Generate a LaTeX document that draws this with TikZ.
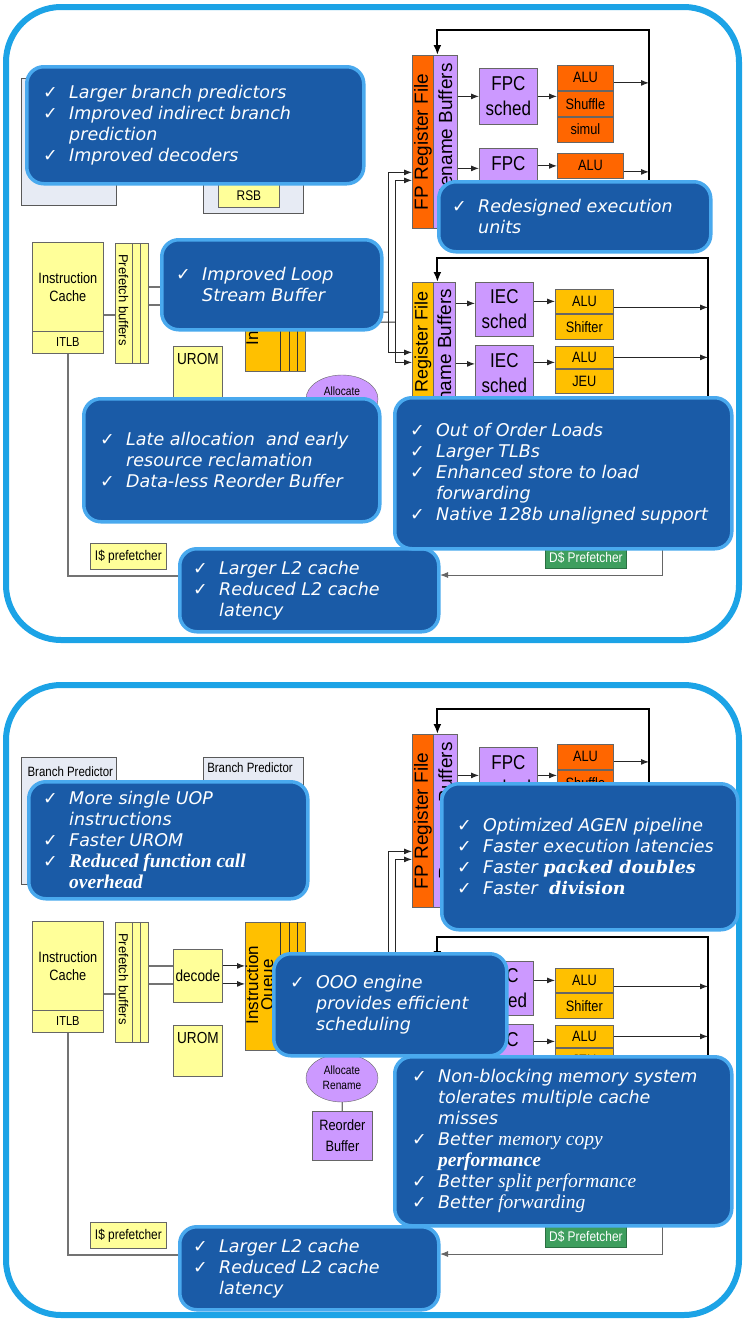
\documentclass[tikz,border=0pt]{standalone}
\usepackage{fontspec}
\usepackage{tikz}
\usetikzlibrary{positioning,calc,arrows.meta,shapes.geometric}

\newfontfamily\dgfont{Liberation Sans}[FakeStretch=0.85]
\newfontfamily\rtfont{Liberation Sans}
\newfontfamily\callfont{DejaVu Sans}
\newfontfamily\tmsfont{Liberation Serif}
\newfontfamily\dvsfont{DejaVu Serif}

\definecolor{panelblue}{HTML}{1CA3E6}
\definecolor{callfill}{HTML}{1A5BA7}
\definecolor{callrim}{HTML}{49A9EE}
\definecolor{lightyellow}{HTML}{FFFF99}
\definecolor{gold}{HTML}{FFC000}
\definecolor{fporange}{HTML}{FF6600}
\definecolor{lilac}{HTML}{CC99FF}
\definecolor{bpgrey}{HTML}{E7EBF4}
\definecolor{dgreen}{HTML}{3E9E5E}

\newcommand{\ck}{\makebox[26pt][l]{\upshape ✓}}
\newcommand{\nock}{\hspace*{26pt}}
\newcommand{\tmsit}[1]{{\tmsfont\itshape\fontsize{19.5}{21}\selectfont #1}}
\newcommand{\tmsbf}[1]{{\tmsfont\bfseries\itshape\fontsize{19.5}{21}\selectfont #1}}
\newcommand{\dvsbf}[1]{{\dvsfont\bfseries\itshape #1}}

% one copy of the core block diagram, #1 = name prefix
\newcommand{\cpucore}[1]{%
  % front end
  \node[bpbox, minimum width=95pt, minimum height=127pt] (#1-bpa) at (21,78) {};
  \node[bpbox, minimum width=100pt, minimum height=135pt] (#1-bpb) at (203,78) {};
  \node[ybox, minimum width=71pt, minimum height=89pt] (#1-ic) at (32,242) {Instruction\\Cache};
  \node[ybox, minimum width=71pt, minimum height=22pt, font=\dgfont\fontsize{13}{15}\selectfont] (#1-itlb) at (32,331) {ITLB};
  \node[ybox, minimum width=33pt, minimum height=120pt] (#1-pf) at (115,243) {};
  \draw[draw=black!60] (132,243) -- (132,363) (140,243) -- (140,363);
  \node[rotlab, rotate=-90, font=\rtfont\fontsize{13}{15}\selectfont] (#1-pftxt) at (123.5,300) {Prefetch buffers};
  \node[ybox, minimum width=49pt, minimum height=53pt, font=\dgfont\fontsize{16}{18}\selectfont] (#1-dec) at (173,270) {decode};
  \node[ybox, minimum width=49pt, minimum height=51pt] (#1-urom) at (173,346) {};
  \node[font=\dgfont\fontsize{16}{18}\selectfont] (#1-uromtxt) at ($(#1-urom.north)+(0,13)$) {UROM};
  \node[qbox, minimum width=60pt, minimum height=128pt] (#1-iq) at (245,243) {};
  \draw[draw=black!80] (280,243) -- (280,371) (289,243) -- (289,371) (297,243) -- (297,371);
  \node[rotlab, rotate=90, align=center, font=\rtfont\fontsize{17}{15}\selectfont] (#1-iqtxt) at (261,306) {Instruction\\Queue};
  \draw[wire] ($(#1-ic.east)+(0,28)$) -- ($(#1-pf.west |- #1-ic.east)+(0,28)$);
  \draw[wire] ($(#1-dec.west -| #1-pf.east)+(0,-10)$) -- ($(#1-dec.west)+(0,-10)$);
  \draw[wire] ($(#1-dec.west -| #1-pf.east)+(0,8)$) -- ($(#1-dec.west)+(0,8)$);
  \draw[arr] ($(#1-dec.east)+(0,-10)$) -- ($(#1-dec.east -| #1-iq.west)+(0,-10)$);
  \draw[arr] ($(#1-dec.east)+(0,8)$) -- ($(#1-dec.east -| #1-iq.west)+(0,8)$);
  % FP cluster
  \node[obox, minimum width=21pt, minimum height=173pt] (#1-fprf) at (412,55) {};
  \node[rotlab, rotate=90] (#1-fprftxt) at (#1-fprf.center) {FP Register File};
  \node[pbox, minimum width=24pt, minimum height=173pt] (#1-fprn) at (433,55) {};
  \node[rotlab, rotate=90] (#1-fprntxt) at ($(#1-fprn.center)+(0,-10)$) {Rename Buffers};
  \node[pbox, sched, minimum width=58pt, minimum height=56pt] (#1-fpca) at (479,68) {FPC\\sched};
  \node[pbox, sched, minimum width=58pt, minimum height=56pt] (#1-fpcb) at (479,148) {FPC\\sched};
  \node[obox, minimum width=56pt, minimum height=25pt] (#1-fpalu) at (557,65) {ALU};
  \node[obox, minimum width=56pt, minimum height=25pt, below=0pt of #1-fpalu] (#1-fpshuf) {Shuffle};
  \node[obox, minimum width=56pt, minimum height=25pt, below=0pt of #1-fpshuf] (#1-fpsimul) {simul};
  \node[obox, minimum width=66pt, minimum height=25pt] (#1-fpalub) at (557,153) {ALU};
  \coordinate (#1-fpret) at (649,195);
  \draw[fbk] (#1-fpret) |- ($(#1-fprn.north)+(-8,-25)$) -- ($(#1-fprn.north)+(-8,0)$);
  \draw[arr] (#1-fpca.west -| #1-fprn.east) -- (#1-fpca.west);
  \draw[arr] (#1-fpca.east) -- (#1-fpca.east -| #1-fpalu.west);
  \draw[arr] ($(#1-fpalu.east)+(0,5)$) -- ($(#1-fpalu.east -| #1-fpret)+(0,5)$);
  \draw[arr] ($(#1-fpcb.west -| #1-fprn.east)+(0,-8)$) -- ($(#1-fpcb.west)+(0,-8)$);
  \draw[arr] (#1-fpalub.west -| #1-fpcb.east) -- (#1-fpalub.west);
  \draw[arr] ($(#1-fpalub.east)+(0,6)$) -- ($(#1-fpalub.east -| #1-fpret)+(0,6)$);
  % integer cluster
  \node[qbox, minimum width=21pt, minimum height=180pt] (#1-irf) at (412,282) {};
  \node[rotlab, rotate=90, font=\rtfont\fontsize{18}{20}\selectfont] (#1-irftxt) at (#1-irf.center) {Integer Register File};
  \node[pbox, minimum width=22pt, minimum height=180pt] (#1-irn) at (433,282) {};
  \node[rotlab, rotate=90] (#1-irntxt) at ($(#1-irn.center)+(0,-15)$) {Rename Buffers};
  \node[pbox, sched, minimum width=58pt, minimum height=54pt] (#1-ieca) at (475,282) {IEC\\sched};
  \node[pbox, sched, minimum width=58pt, minimum height=55pt] (#1-iecb) at (475,345) {IEC\\sched};
  \node[qbox, minimum width=58pt, minimum height=24pt] (#1-ialu) at (555,289) {ALU};
  \node[qbox, minimum width=58pt, minimum height=25pt, below=0pt of #1-ialu] (#1-ishift) {Shifter};
  \node[qbox, minimum width=58pt, minimum height=22pt] (#1-ialub) at (555,346) {ALU};
  \node[qbox, minimum width=58pt, minimum height=24pt, below=0pt of #1-ialub] (#1-ijeu) {JEU};
  \coordinate (#1-iret) at (708,400);
  \draw[fbk] (#1-iret) |- ($(#1-irn.north)+(-7,-24)$) -- ($(#1-irn.north)+(-7,0)$);
  \draw[arr] ($(#1-ieca.west -| #1-irn.east)+(0,-6)$) -- ($(#1-ieca.west)+(0,-6)$);
  \draw[arr] (#1-ialu.west -| #1-ieca.east) -- (#1-ialu.west);
  \draw[arr] ($(#1-ialu.east)+(0,6)$) -- ($(#1-ialu.east -| #1-iret)+(0,6)$);
  \draw[arr] ($(#1-iecb.west -| #1-irn.east)+(0,-9)$) -- ($(#1-iecb.west)+(0,-9)$);
  \draw[arr] ($(#1-ialub.west -| #1-iecb.east)+(0,5)$) -- ($(#1-ialub.west)+(0,5)$);
  \draw[arr] (#1-ialub.east) -- (#1-ialub.east -| #1-iret);
  % issue bus
  \coordinate (#1-busa) at (388,312);
  \coordinate (#1-busb) at (395,322);
  \draw[bus] ($(#1-iq.east)+(0,5)$) -- (#1-busa);
  \draw[bus] ($(#1-iq.east)+(0,15)$) -- (#1-busb);
  \draw[arr] (#1-busa) |- ($(#1-fprf.west)+(0,30.5)$);
  \draw[arr] (#1-busb) |- ($(#1-fprf.west)+(0,38.5)$);
  \draw[arr] (#1-busa) |- ($(#1-irf.west)+(0,-20)$);
  \draw[arr] (#1-busb) |- ($(#1-irf.west)+(0,-10)$);
  % allocation, memory
  \node[ellipse, draw=black!60, fill=lilac, minimum width=72pt, minimum height=48pt, inner sep=0pt, align=center, font=\dgfont\fontsize{12}{15}\selectfont] (#1-alloc) at (342,399) {Allocate\\Rename};
  \node[pbox, minimum width=60pt, minimum height=49pt, font=\dgfont\fontsize{15}{21}\selectfont] (#1-rob) at (312,432) {Reorder\\Buffer};
  \draw[wire] (#1-alloc) -- (#1-rob);
  \node[ybox, minimum width=76pt, minimum height=26pt, font=\dgfont\fontsize{14}{16}\selectfont] (#1-ipf) at (90,543) {I\$ prefetcher};
  \coordinate (#1-l2in) at (205,576);
  \draw[wire] (#1-itlb.south) |- (#1-l2in);
  \node[blk, fill=dgreen, draw=dgreen!70!black, text=white, minimum width=81pt, minimum height=22pt, font=\dgfont\fontsize{14}{16}\selectfont] (#1-dpf) at (545,546) {D\$ Prefetcher};
  \coordinate (#1-dret) at (662,530);
  \coordinate (#1-l2out) at (440,575);
  \draw[arr, draw=black!60] (#1-dret) |- (#1-l2out);
}

\begin{document}
\begin{tikzpicture}[x=1pt, y=-1pt]
\tikzstyle{panel}=[draw=panelblue, line width=6pt, rounded corners=55pt, fill=white]
\tikzstyle{blk}=[draw=black!60, line width=0.8pt, anchor=north west, inner sep=1pt, align=center, font=\dgfont\fontsize{15}{18}\selectfont]
\tikzstyle{ybox}=[blk, fill=lightyellow]
\tikzstyle{qbox}=[blk, fill=gold]
\tikzstyle{obox}=[blk, fill=fporange]
\tikzstyle{pbox}=[blk, fill=lilac]
\tikzstyle{bpbox}=[blk, fill=bpgrey, draw=black!65]
\tikzstyle{sched}=[font=\dgfont\fontsize{20}{25}\selectfont]
\tikzstyle{rotlab}=[font=\rtfont\fontsize{19}{21}\selectfont, inner sep=0pt]
\tikzstyle{small}=[font=\dgfont\fontsize{13.5}{15}\selectfont]
\tikzstyle{wire}=[draw=black!55, line width=1.2pt]
\tikzstyle{bus}=[draw=black!80, line width=1pt]
\tikzstyle{arr}=[draw=black!85, line width=1pt, -{Latex[length=8pt,width=6pt]}]
\tikzstyle{fbk}=[draw=black, line width=2pt, -{Latex[length=10pt,width=8pt]}]
\tikzstyle{callout}=[draw=callrim, line width=3.5pt, fill=callfill, rounded corners=17pt, anchor=north west]
\tikzstyle{calltext}=[text=white, align=left, anchor=west, inner sep=0pt, font=\callfont\itshape\fontsize{17.5}{21}\selectfont]
\useasboundingbox (0,0) rectangle (744,1320);

% two panels
\draw[panel] (6,7) rectangle (739,640);
\draw[panel] (6,685) rectangle (739,1315);

\begin{scope}
\cpucore{t}
\node[ybox, minimum width=61pt, minimum height=24pt, font=\dgfont\fontsize{14}{16}\selectfont] (t-rsb) at (218,183) {RSB};
\end{scope}
\begin{scope}[yshift=-679pt]
\cpucore{b}
\node[small, anchor=west] (b-bpatxt) at (24,93) {Branch Predictor};
\node[small] (b-bpbtxt) at (250,89) {Branch Predictor};
\end{scope}

% callouts, upper panel
\node[callout, minimum width=337pt, minimum height=117pt] (fecall) at (25,65) {};
\node[calltext] (fecalltxt) at ($(fecall.west)+(18,0)$) {\ck Larger branch predictors\\ \ck Improved indirect branch\\ \nock prediction\\ \ck Improved decoders};
\node[callout, minimum width=220pt, minimum height=90pt] (lsdcall) at (160,238) {};
\node[calltext] (lsdcalltxt) at ($(lsdcall.west)+(16,0)$) {\ck Improved Loop\\ \nock Stream Buffer};
\node[callout, minimum width=272pt, minimum height=70pt] (execall) at (437,180) {};
\node[calltext] (execalltxt) at ($(execall.west)+(15,0)$) {\ck Redesigned execution\\ \nock units};
\node[callout, minimum width=296pt, minimum height=123pt] (alcall) at (82,397) {};
\node[calltext] (alcalltxt) at ($(alcall.west)+(18,0)$) {\ck Late allocation~ and early\\ \nock resource reclamation\\ \ck Data-less Reorder Buffer};
\node[callout, minimum width=259pt, minimum height=83pt] (l2call) at (178,547) {};
\node[calltext] (l2calltxt) at ($(l2call.west)+(15,0)$) {\ck Larger L2 cache\\ \ck Reduced L2 cache\\ \nock latency};
\node[callout, minimum width=337pt, minimum height=151pt] (memcall) at (393,396) {};
\node[calltext] (memcalltxt) at ($(memcall.west)+(17,0)$) {\ck Out of Order Loads\\ \ck Larger TLBs\\ \ck Enhanced store to load\\ \nock forwarding\\ \ck Native 128b unaligned support};

% callouts, lower panel
\node[callout, minimum width=279pt, minimum height=117pt] (uopcall) at (27,780) {};
\node[calltext] (uopcalltxt) at ($(uopcall.west)+(16,0)$) {\ck More single UOP\\ \nock instructions\\ \ck Faster UROM\\ \ck\tmsbf{Reduced function call}\\ \nock\tmsbf{overhead}};
\node[callout, minimum width=296pt, minimum height=146pt] (agencall) at (440,782) {};
\node[calltext] (agencalltxt) at ($(agencall.west)+(17,0)$) {\ck Optimized AGEN pipeline\\ \ck Faster execution latencies\\ \ck Faster \dvsbf{packed doubles}\\ \ck Faster~ \dvsbf{division}};
\node[callout, minimum width=233pt, minimum height=102pt] (ooocall) at (272,952) {};
\node[calltext] (ooocalltxt) at ($(ooocall.west)+(18,0)$) {\ck OOO engine\\ \nock provides efficient\\ \nock scheduling};
\node[callout, minimum width=259pt, minimum height=83pt] (l2callb) at (178,1225) {};
\node[calltext] (l2callbtxt) at ($(l2callb.west)+(15,0)$) {\ck Larger L2 cache\\ \ck Reduced L2 cache\\ \nock latency};
\node[callout, minimum width=337pt, minimum height=169pt] (nbcall) at (393,1055) {};
\node[calltext] (nbcalltxt) at ($(nbcall.west)+(19,0)$) {\ck Non-blocking \tmsit{m}emory system\\ \nock tolerates multiple cache\\ \nock misses\\ \ck Better \tmsit{memory copy}\\ \nock\tmsbf{performance}\\ \ck Better \tmsit{split performance}\\ \ck Better \tmsit{forwarding}};
\end{tikzpicture}
\end{document}
